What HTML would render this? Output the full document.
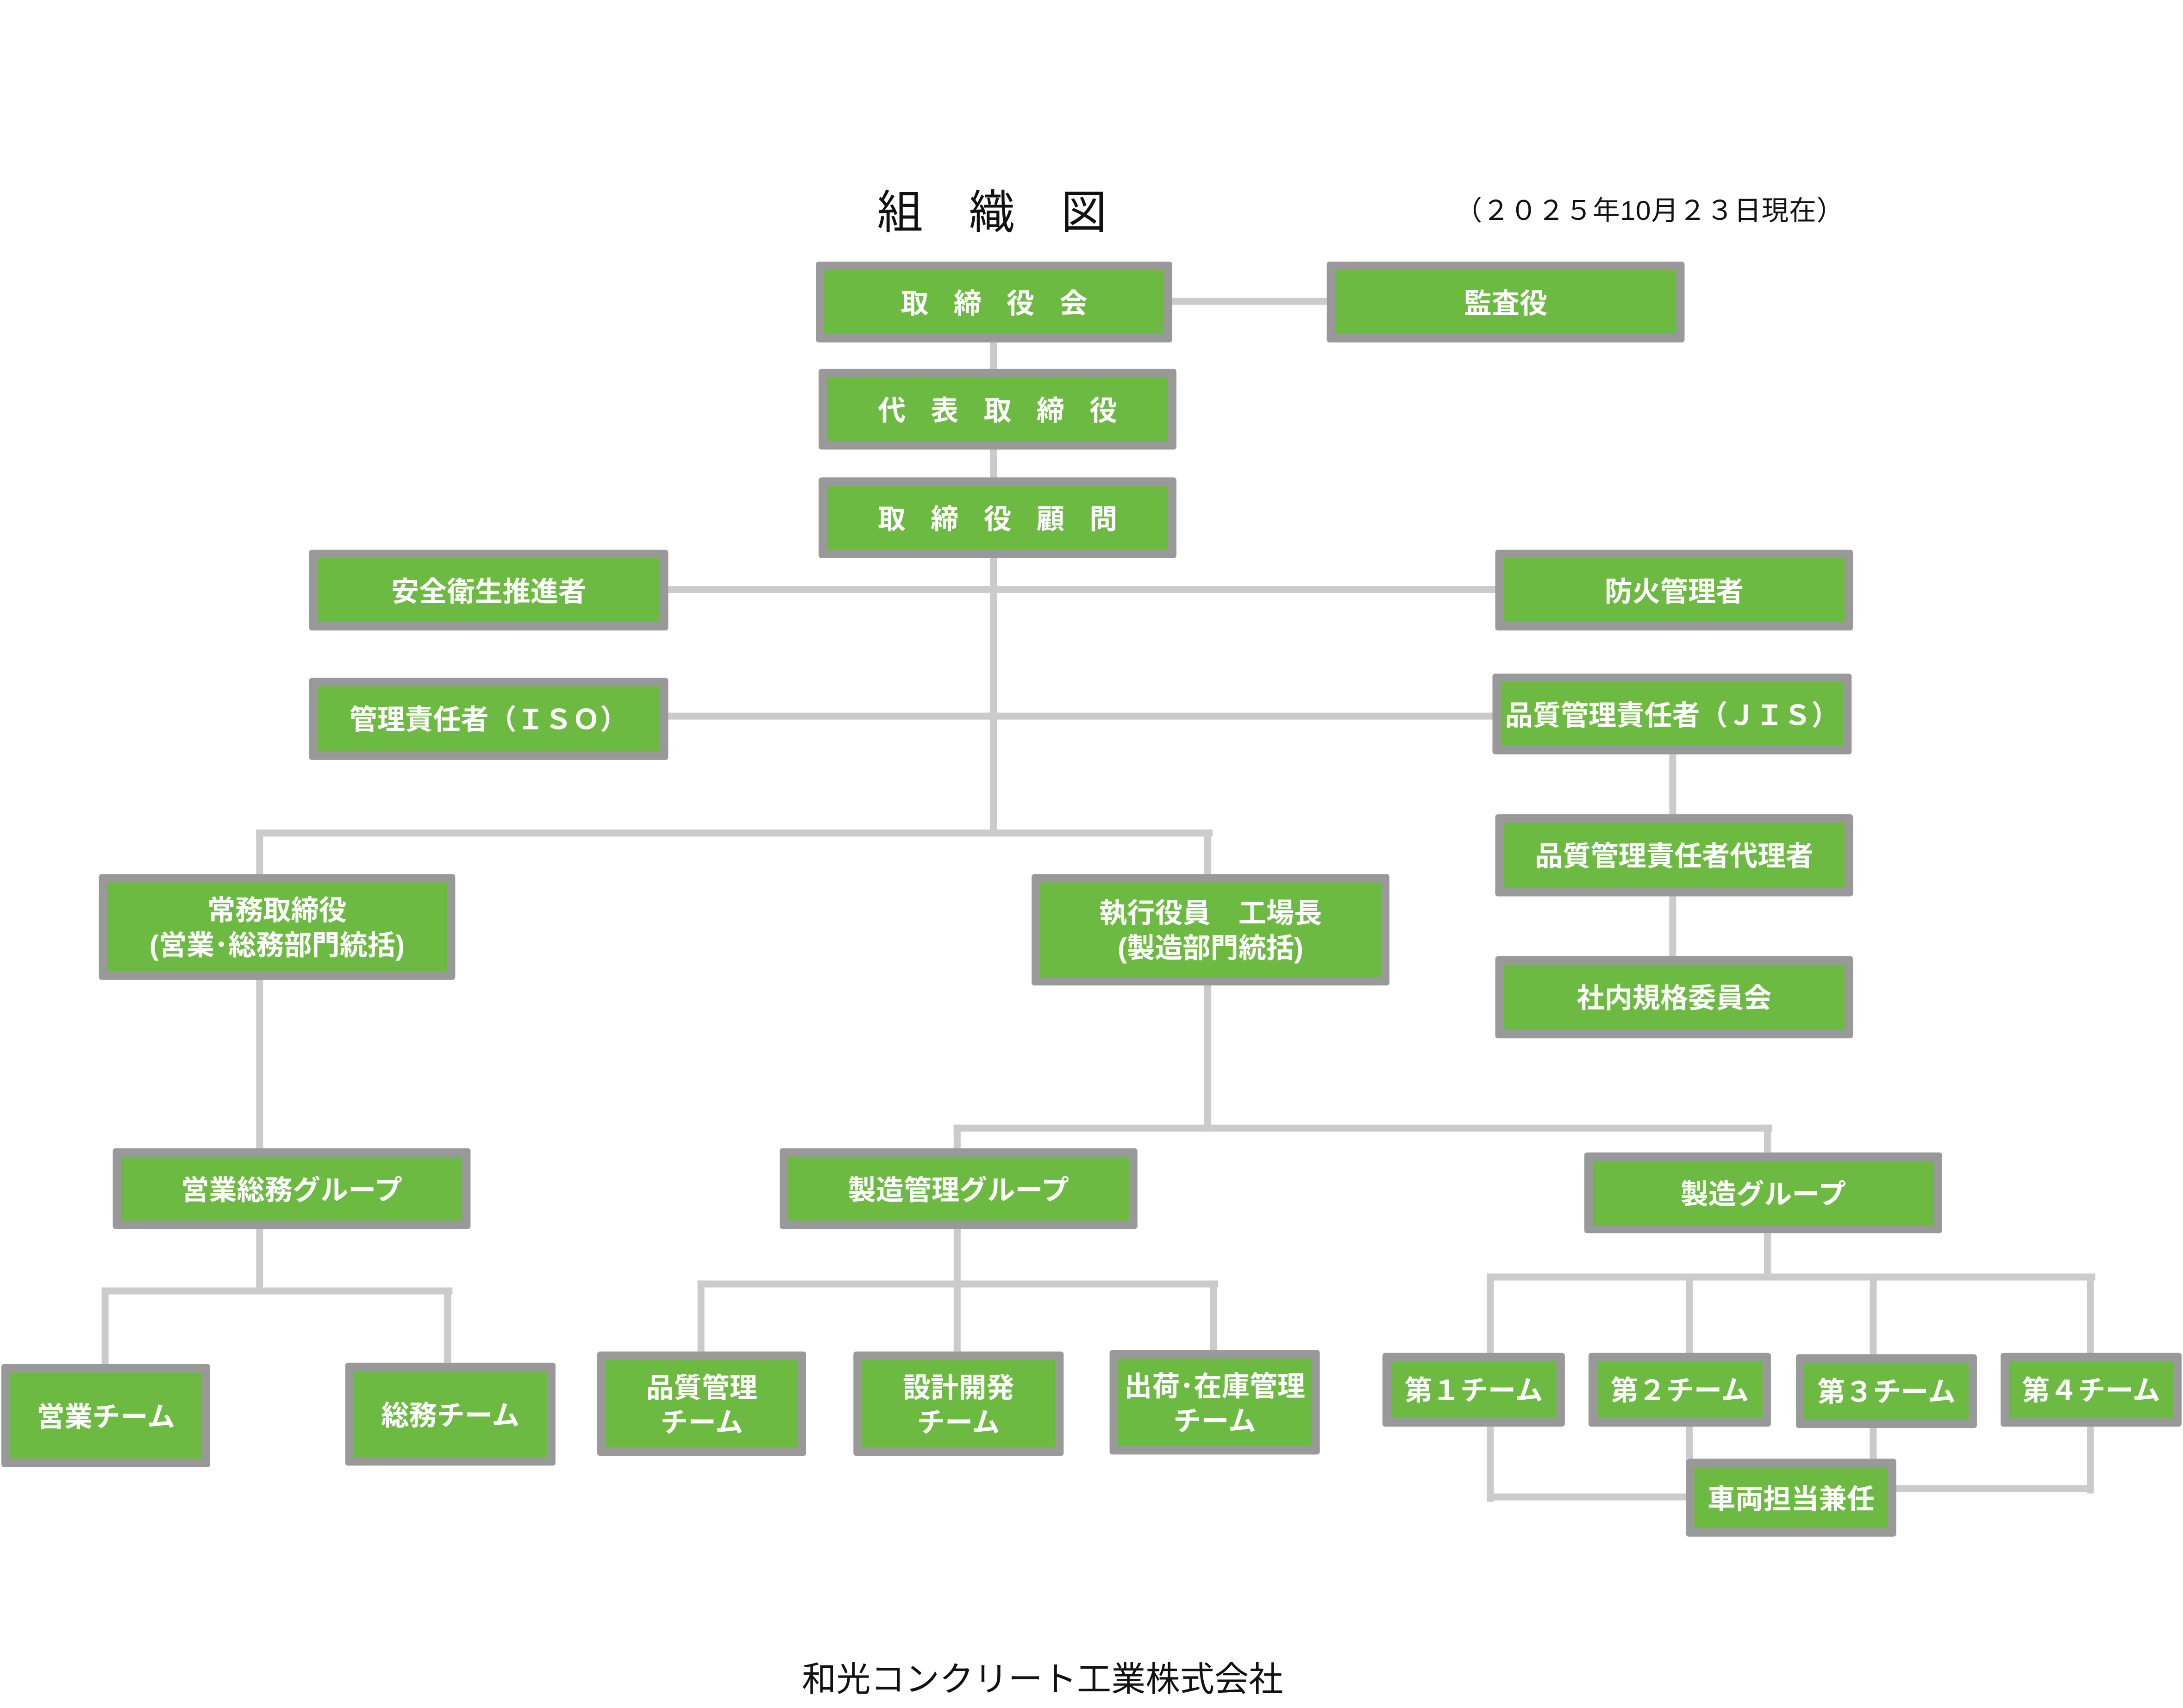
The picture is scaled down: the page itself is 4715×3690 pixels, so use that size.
<!DOCTYPE html>
<html><head><meta charset="utf-8"><style>
html,body{margin:0;padding:0;background:#fff;}
body{width:4715px;height:3689px;overflow:hidden;position:relative;}
#c{position:absolute;left:0;top:0;width:1568px;height:1227px;transform:scale(3.007);transform-origin:0 0;font-family:"Liberation Sans","Noto Sans CJK JP",sans-serif;}
.b{position:absolute;box-sizing:border-box;border:6px solid #999;background:#6dba42;border-radius:2px;display:flex;align-items:center;justify-content:center;text-align:center;color:#fff;font-weight:bold;font-size:20px;line-height:25px;white-space:nowrap;padding-top:4px;}
.h,.v{position:absolute;background:#cbcbcb;}
.h{height:5px;}
.v{width:5px;}
.t{position:absolute;color:#111;white-space:nowrap;}
</style></head><body><div id="c">
<!-- connectors -->
<div class="h" style="left:842px;top:214px;width:111px"></div>
<div class="v" style="left:711px;top:246px;height:354px"></div>
<div class="h" style="left:480px;top:421px;width:594px"></div>
<div class="h" style="left:480px;top:512px;width:592px"></div>
<div class="v" style="left:1199px;top:542px;height:145px"></div>
<div class="h" style="left:184px;top:596px;width:687px"></div>
<div class="v" style="left:184px;top:596px;height:229px"></div>
<div class="v" style="left:865px;top:596px;height:32px"></div>
<div class="v" style="left:865px;top:708px;height:105px"></div>
<div class="h" style="left:685px;top:808px;width:588px"></div>
<div class="v" style="left:685px;top:808px;height:17px"></div>
<div class="v" style="left:1267px;top:808px;height:20px"></div>
<div class="v" style="left:184px;top:883px;height:47px"></div>
<div class="h" style="left:73px;top:925px;width:252px"></div>
<div class="v" style="left:73px;top:925px;height:55px"></div>
<div class="v" style="left:319px;top:925px;height:54px"></div>
<div class="v" style="left:685px;top:883px;height:88px"></div>
<div class="h" style="left:501px;top:920px;width:374px"></div>
<div class="v" style="left:501px;top:920px;height:51px"></div>
<div class="v" style="left:869px;top:920px;height:50px"></div>
<div class="v" style="left:1267px;top:886px;height:34px"></div>
<div class="h" style="left:1068px;top:915px;width:437px"></div>
<div class="v" style="left:1068px;top:915px;height:164px"></div>
<div class="v" style="left:1211px;top:915px;height:133px"></div>
<div class="v" style="left:1343px;top:915px;height:133px"></div>
<div class="v" style="left:1499px;top:915px;height:158px"></div>
<div class="h" style="left:1068px;top:1073px;width:143px"></div>
<div class="h" style="left:1362px;top:1067px;width:142px"></div>
<!-- text -->
<div class="t" style="left:630px;top:133px;font-size:33px;line-height:40px">組　織　図</div>
<div class="t" style="left:1045px;top:139px;font-size:19.5px;line-height:26px;letter-spacing:0.3px">（２０２５年10月２３日現在）</div>
<div class="t" style="left:576px;top:1192px;font-size:24.7px;line-height:32px">和光コンクリート工業株式会社</div>
<!-- boxes -->
<div class="b" style="left:586px;top:188px;width:256px;height:58px;letter-spacing:18px;padding-left:18px">取締役会</div>
<div class="b" style="left:953px;top:188px;width:257px;height:58px">監査役</div>
<div class="b" style="left:588px;top:265px;width:257px;height:58px;letter-spacing:18px;padding-left:18px">代表取締役</div>
<div class="b" style="left:588px;top:343px;width:257px;height:58px;letter-spacing:18px;padding-left:18px">取締役顧問</div>
<div class="b" style="left:222px;top:395px;width:258px;height:58px">安全衛生推進者</div>
<div class="b" style="left:1074px;top:395px;width:257px;height:58px">防火管理者</div>
<div class="b" style="left:222px;top:487px;width:258px;height:59px">管理責任者（ＩＳＯ）</div>
<div class="b" style="left:1072px;top:484px;width:258px;height:58px">品質管理責任者（ＪＩＳ）</div>
<div class="b" style="left:1074px;top:585px;width:257px;height:59px">品質管理責任者代理者</div>
<div class="b" style="left:1074px;top:687px;width:257px;height:59px">社内規格委員会</div>
<div class="b" style="left:71px;top:628px;width:256px;height:76px">常務取締役<br>(営業･総務部門統括)</div>
<div class="b" style="left:741px;top:628px;width:257px;height:80px">執行役員　工場長<br>(製造部門統括)</div>
<div class="b" style="left:81px;top:825px;width:257px;height:58px">営業総務グループ</div>
<div class="b" style="left:560px;top:825px;width:257px;height:58px">製造管理グループ</div>
<div class="b" style="left:1138px;top:828px;width:257px;height:58px">製造グループ</div>
<div class="b" style="left:1px;top:980px;width:150px;height:74px">営業チーム</div>
<div class="b" style="left:248px;top:979px;width:151px;height:74px">総務チーム</div>
<div class="b" style="left:429px;top:971px;width:150px;height:75px">品質管理<br>チーム</div>
<div class="b" style="left:613px;top:971px;width:151px;height:75px">設計開発<br>チーム</div>
<div class="b" style="left:797px;top:970px;width:151px;height:75px">出荷･在庫管理<br>チーム</div>
<div class="b" style="left:993px;top:972px;width:131px;height:53px">第１チーム</div>
<div class="b" style="left:1141px;top:972px;width:131px;height:53px">第２チーム</div>
<div class="b" style="left:1290px;top:973px;width:130px;height:53px">第３チーム</div>
<div class="b" style="left:1437px;top:972px;width:130px;height:53px">第４チーム</div>
<div class="b" style="left:1211px;top:1048px;width:151px;height:56px">車両担当兼任</div>
</div></body></html>
